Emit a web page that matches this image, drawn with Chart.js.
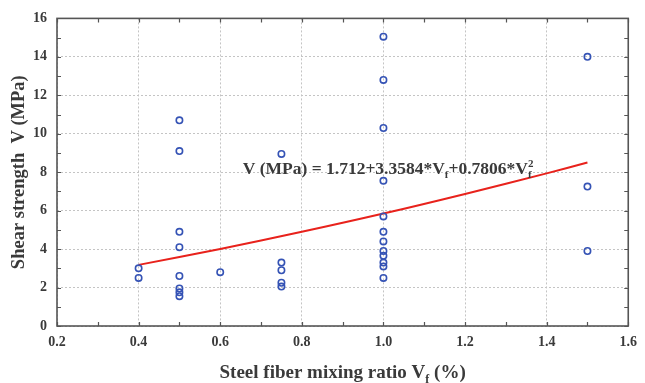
<!DOCTYPE html>
<html>
<head>
<meta charset="utf-8">
<script src="https://cdn.jsdelivr.net/npm/chart.js@4.4.0/dist/chart.umd.min.js"></script>
<style>
  html, body { margin: 0; padding: 0; background: #fff; }
  #wrap { width: 645px; height: 383px; }
</style>
</head>
<body>
<div id="wrap"><canvas id="chart"></canvas></div>
<script>
// Measured data: steel fiber ratio (%) vs shear strength (MPa)
const fiberRatio = [
    0.4, 0.4,
    0.5, 0.5, 0.5, 0.5, 0.5, 0.5, 0.5, 0.5,
    0.6,
    0.75, 0.75, 0.75, 0.75, 0.75,
    1.0, 1.0, 1.0, 1.0, 1.0, 1.0, 1.0, 1.0, 1.0, 1.0, 1.0, 1.0,
    1.5, 1.5, 1.5
];
const shearStrength = [
    3.0, 2.5,
    10.7, 9.1, 4.9, 4.1, 2.6, 1.95, 1.75, 1.55,
    2.8,
    8.95, 3.3, 2.9, 2.25, 2.05,
    15.05, 12.8, 10.3, 7.55, 5.7, 4.9, 4.4, 3.9, 3.65, 3.3, 3.1, 2.5,
    14.0, 7.25, 3.9
];

// Regression curve
const fitRatio = [0.4, 0.6, 0.8, 1.0, 1.2, 1.4, 1.5];
const fitStrength = [3.18, 4.01, 4.90, 5.85, 6.87, 7.94, 8.50];

// Axis ticks
const xTicks = [0.2, 0.4, 0.6, 0.8, 1.0, 1.2, 1.4, 1.6];
const yTicks = [0, 2, 4, 6, 8, 10, 12, 14, 16];

const SERIF = '"Liberation Serif", "DejaVu Serif", serif';
const TEXT_COLOR = '#3a3a3a';
const FRAME_COLOR = '#555555';

// Draw a run of text pieces with subscripts / superscripts
function drawRichText(ctx, parts, x, y, size) {
    let cx = x;
    parts.forEach(p => {
        if (p.sub || p.sup) {
            ctx.font = 'bold ' + Math.round(size * 0.62) + 'px ' + SERIF;
        } else {
            ctx.font = 'bold ' + size + 'px ' + SERIF;
        }
        let dy = 0;
        if (p.sub) dy = size * 0.25;
        if (p.sup) dy = -size * 0.42;
        ctx.fillText(p.t, cx, y + dy);
        if (!p.stack) cx += ctx.measureText(p.t).width;
    });
    return cx;
}

function richWidth(ctx, parts, size) {
    let w = 0;
    parts.forEach(p => {
        ctx.font = 'bold ' + ((p.sub || p.sup) ? Math.round(size * 0.62) : size) + 'px ' + SERIF;
        if (!p.stack) w += ctx.measureText(p.t).width;
    });
    return w;
}

const equationParts = [
    { t: 'V (MPa) = 1.712+3.3584*V' },
    { t: 'f', sub: true },
    { t: '+0.7806*V' },
    { t: '2', sup: true, stack: true },
    { t: 'f', sub: true }
];
const xTitleParts = [
    { t: 'Steel fiber mixing ratio V' },
    { t: 'f', sub: true },
    { t: ' (%)' }
];

// Frame, inward ticks, titles and equation
const decorPlugin = {
    id: 'decor',
    afterDraw(chart) {
        const ctx = chart.ctx;
        const area = chart.chartArea;
        const xs = chart.scales.x;
        const ys = chart.scales.y;
        ctx.save();

        // frame
        ctx.strokeStyle = FRAME_COLOR;
        ctx.lineWidth = 1.6;
        ctx.strokeRect(area.left, area.top, area.right - area.left, area.bottom - area.top);

        // inward ticks
        ctx.lineWidth = 1.2;
        ctx.beginPath();
        for (let v = 0.2; v <= 1.6001; v += 0.1) {
            const px = Math.round(xs.getPixelForValue(v)) + 0.5;
            ctx.moveTo(px, area.bottom); ctx.lineTo(px, area.bottom - 4);
            ctx.moveTo(px, area.top); ctx.lineTo(px, area.top + 4);
        }
        for (let v = 0; v <= 16; v += 1) {
            const py = Math.round(ys.getPixelForValue(v)) + 0.5;
            ctx.moveTo(area.left, py); ctx.lineTo(area.left + 4, py);
            ctx.moveTo(area.right, py); ctx.lineTo(area.right - 4, py);
        }
        ctx.stroke();

        ctx.fillStyle = TEXT_COLOR;
        ctx.textBaseline = 'alphabetic';
        ctx.textAlign = 'left';

        // equation
        const ex = xs.getPixelForValue(0.655);
        const ey = ys.getPixelForValue(7.9);
        drawRichText(ctx, equationParts, ex, ey, 17.5);

        // x axis title
        const tw = richWidth(ctx, xTitleParts, 19);
        drawRichText(ctx, xTitleParts, (area.left + area.right) / 2 - tw / 2, 378, 19);

        // y axis title
        ctx.translate(24, (area.top + area.bottom) / 2);
        ctx.rotate(-Math.PI / 2);
        ctx.font = 'bold 18.5px ' + SERIF;
        ctx.textAlign = 'center';
        ctx.fillText('Shear strength  V (MPa)', 0, 0);

        ctx.restore();
    }
};

const scatterData = fiberRatio.map((x, i) => ({ x: x, y: shearStrength[i] }));
const fitData = fitRatio.map((x, i) => ({ x: x, y: fitStrength[i] }));

new Chart(document.getElementById('chart'), {
    type: 'scatter',
    data: {
        datasets: [
            {
                label: 'Fit',
                type: 'line',
                data: fitData,
                borderColor: '#e8221c',
                borderWidth: 2,
                pointRadius: 0,
                tension: 0.4,
                fill: false,
                order: 2
            },
            {
                label: 'Test data',
                data: scatterData,
                pointStyle: 'circle',
                pointRadius: 3.2,
                pointBorderWidth: 1.6,
                pointBorderColor: '#3553b5',
                pointBackgroundColor: 'rgba(255,255,255,0)',
                order: 1
            }
        ]
    },
    options: {
        responsive: true,
        maintainAspectRatio: false,
        animation: false,
        layout: { padding: { top: 17, right: 10, left: 0, bottom: 0 } },
        plugins: {
            legend: { display: false },
            tooltip: { enabled: false }
        },
        scales: {
            x: {
                type: 'linear',
                min: 0.2,
                max: 1.6,
                afterBuildTicks: axis => { axis.ticks = xTicks.map(v => ({ value: v })); },
                afterFit: axis => { axis.height = 57; },
                border: { display: false, dash: [2, 2] },
                grid: {
                    color: '#c4c4c4',
                    lineWidth: 1,
                    drawTicks: false
                },
                ticks: {
                    padding: 8,
                    color: TEXT_COLOR,
                    font: { family: SERIF, size: 14, weight: 'bold' },
                    callback: v => v.toFixed(1)
                }
            },
            y: {
                type: 'linear',
                min: 0,
                max: 16,
                afterBuildTicks: axis => { axis.ticks = yTicks.map(v => ({ value: v })); },
                afterFit: axis => { axis.width = 57; },
                border: { display: false, dash: [2, 2] },
                grid: {
                    color: '#c4c4c4',
                    lineWidth: 1,
                    drawTicks: false
                },
                ticks: {
                    padding: 10,
                    color: TEXT_COLOR,
                    font: { family: SERIF, size: 14, weight: 'bold' },
                    callback: v => String(v)
                }
            }
        }
    },
    plugins: [decorPlugin]
});
</script>
</body>
</html>
